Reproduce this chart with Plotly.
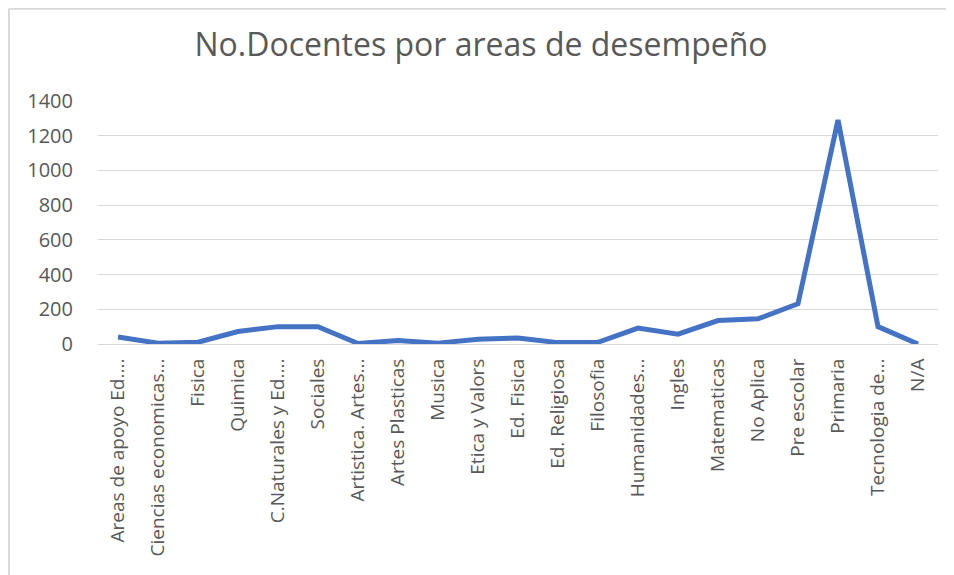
import plotly.graph_objects as go

# categories (as shown, truncated by the original chart)
areas = [
    "Areas de apoyo Ed....", "Ciencias economicas...", "Fisica", "Quimica",
    "C.Naturales y Ed....", "Sociales", "Artistica. Artes...", "Artes Plasticas",
    "Musica", "Etica y Valors", "Ed. Fisica", "Ed. Religiosa", "Filosofia",
    "Humanidades...", "Ingles", "Matematicas", "No Aplica", "Pre escolar",
    "Primaria", "Tecnologia de...", "N/A",
]
docentes = [40, 5, 10, 72, 100, 100, 3, 20, 5, 28, 35, 8, 10,
            92, 57, 135, 145, 232, 1290, 100, 0]

y_ticks = [0, 200, 400, 600, 800, 1000, 1200, 1400]

grey = "#595959"
border = "#D9D9D9"

fig = go.Figure()
fig.add_trace(go.Scatter(
    x=areas, y=docentes, mode="lines",
    line=dict(color="#4472C4", width=5),
    hoverinfo="x+y",
))

# page body adds 8px, so the figure is a bit smaller than the window
fig.update_layout(
    width=946, height=567,
    paper_bgcolor="white", plot_bgcolor="white",
    margin=dict(l=90, r=16, t=93, b=231),
    font=dict(family="Open Sans", color=grey, size=20),
    title=dict(text="No.Docentes por areas de desempeño", x=0.5, xanchor="center",
               y=0.935, yanchor="middle",
               font=dict(size=32, color=grey)),
    showlegend=False,
    shapes=[
        # chart frame: only the top and left edges are visible in the original
        dict(type="line", xref="paper", yref="paper",
             x0=-0.106, x1=1.02, y0=1.38, y1=1.38,
             line=dict(color=border, width=2)),
        dict(type="line", xref="paper", yref="paper",
             x0=-0.106, x1=-0.106, y0=-1.0, y1=1.38,
             line=dict(color=border, width=2)),
    ],
)
fig.update_xaxes(
    type="category", tickangle=-90, showgrid=False, automargin=False,
    showline=True, linecolor=border, linewidth=1,
    ticks="", ticklabelstandoff=6,
    tickfont=dict(size=19, color=grey),
    range=[-0.5, len(areas) - 0.5],
)
fig.update_yaxes(
    range=[0, 1400], tickvals=y_ticks, showgrid=True, automargin=False,
    gridcolor=border, gridwidth=1, zeroline=False,
    ticks="", ticklabelstandoff=24,
    tickfont=dict(size=20, color=grey),
)

fig.write_html("out.html")
